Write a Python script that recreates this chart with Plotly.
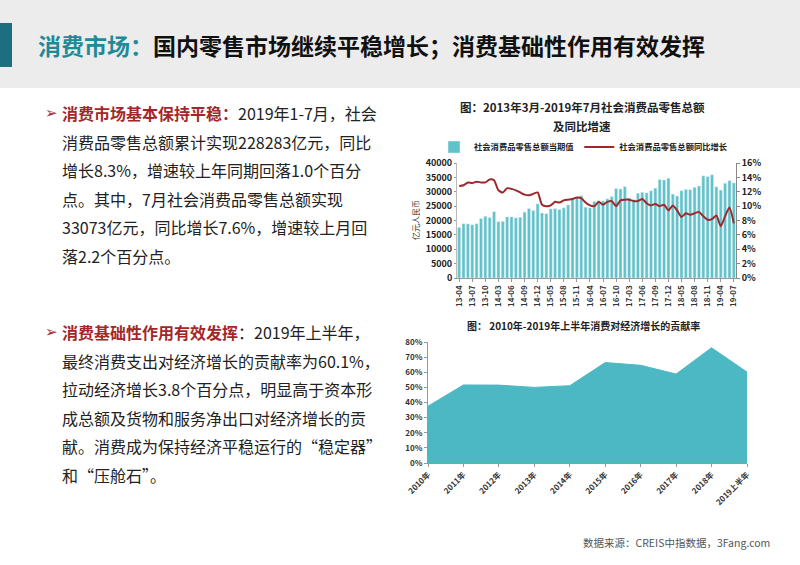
import plotly.graph_objects as go

W, H = 800, 565

# --- chart 1: monthly retail sales (亿元) and YoY growth (%) ---
months = (
    ["13-04", "13-05", "13-06", "13-07", "13-08", "13-09", "13-10", "13-11", "13-12"]
    + ["14-03", "14-04", "14-05", "14-06", "14-07", "14-08", "14-09", "14-10", "14-11", "14-12"]
    + ["15-03", "15-04", "15-05", "15-06", "15-07", "15-08", "15-09", "15-10", "15-11", "15-12"]
    + ["16-03", "16-04", "16-05", "16-06", "16-07", "16-08", "16-09", "16-10", "16-11", "16-12"]
    + ["17-03", "17-04", "17-05", "17-06", "17-07", "17-08", "17-09", "17-10", "17-11", "17-12"]
    + ["18-03", "18-04", "18-05", "18-06", "18-07", "18-08", "18-09", "18-10", "18-11", "18-12"]
    + ["19-03", "19-04", "19-05", "19-06", "19-07"]
)
retail_sales = [
    17600, 18886, 18827, 18513, 18886, 20653, 21491, 21012, 23060,
    19601, 19701, 21250, 21243, 20926, 21134, 22927, 24174, 23475, 25801,
    22605, 22387, 24037, 24123, 23831, 24426, 25434, 27796, 28017, 28635,
    24646, 24420, 26611, 26857, 26827, 27540, 28333, 31119, 30959, 31757,
    27864, 27279, 29459, 29808, 29610, 30330, 31252, 34240, 34108, 34734,
    29194, 28542, 30359, 30842, 30734, 31542, 32005, 35534, 35260, 35893,
    31726, 30586, 32956, 33878, 33073,
]
retail_growth = [
    12.8, 12.9, 13.3, 13.2, 13.4, 13.3, 13.3, 13.7, 13.6,
    12.2, 11.9, 12.5, 12.4, 12.2, 11.9, 11.6, 11.5, 11.7, 11.9,
    10.2, 10.0, 10.1, 10.6, 10.5, 10.8, 10.9, 11.0, 11.2, 11.1,
    10.5, 10.1, 10.0, 10.6, 10.2, 10.6, 10.7, 10.0, 10.8, 10.9,
    10.9, 10.7, 10.7, 11.0, 10.4, 10.1, 10.3, 10.0, 10.2, 9.4,
    10.1, 9.4, 8.5, 9.0, 8.8, 9.0, 9.2, 8.6, 8.1, 8.2,
    8.7, 7.2, 8.6, 9.8, 7.6,
]
month_ticks = ["13-04", "13-07", "13-10", "14-03", "14-06", "14-09", "14-12", "15-05",
               "15-08", "15-11", "16-04", "16-07", "16-10", "17-03", "17-06", "17-09",
               "17-12", "18-05", "18-08", "18-11", "19-04", "19-07"]

# --- chart 2: consumption contribution to growth (%) ---
years = ["2010年", "2011年", "2012年", "2013年", "2014年", "2015年", "2016年", "2017年", "2018年", "2019上半年"]
contribution = [37.6, 51.6, 51.5, 50.0, 51.1, 66.4, 64.6, 58.8, 76.2, 60.1]

TEAL_BAR = "#5fc3c9"
TEAL_AREA = "#4cb8c3"
RED = "#9c2a2c"
TEXT_RED = "#a3272a"
FONT = "Noto Sans CJK SC"


def px(x):
    return x / W


def py(y):
    return 1 - y / H


def add_text(fig, x, y, text, size, color="#222", xanchor="left", family=FONT, **kw):
    """Place a text label using pixel coordinates of the slide."""
    fig.add_annotation(xref="paper", yref="paper", x=px(x), y=py(y), xanchor=xanchor,
                       yanchor="middle", showarrow=False, text=text,
                       font=dict(family=family, size=size, color=color), **kw)


fig = go.Figure()

fig.add_trace(go.Bar(x=months, y=retail_sales, name="社会消费品零售总额当期值",
                     marker_color=TEAL_BAR, xaxis="x", yaxis="y"))
fig.add_trace(go.Scatter(x=months, y=retail_growth, name="社会消费品零售总额同比增长",
                         mode="lines", line=dict(color=RED, width=2, shape="spline", smoothing=0.6),
                         xaxis="x", yaxis="y2"))
fig.add_trace(go.Scatter(x=list(range(len(years))), y=contribution, mode="lines",
                         fill="tozeroy", fillcolor=TEAL_AREA, line=dict(color=TEAL_AREA, width=1),
                         showlegend=False, xaxis="x2", yaxis="y3"))

tick_font = dict(family=FONT, size=9, color="#222", weight="bold")
small_font = dict(family=FONT, size=8, color="#333", weight="bold")

fig.update_layout(
    width=W, height=H,
    margin=dict(l=0, r=0, t=0, b=0, autoexpand=False),
    paper_bgcolor="white", plot_bgcolor="white",
    font=dict(family=FONT),
    bargap=0.3,
    showlegend=True,
    legend=dict(orientation="h", x=px(434), y=py(147), xanchor="left", yanchor="middle",
                font=dict(family=FONT, size=8.3, color="#222", weight="bold"),
                tracegroupgap=0, bgcolor="rgba(0,0,0,0)"),
    xaxis=dict(domain=[px(457), px(736)], anchor="y", type="category", automargin=False,
               tickmode="array", tickvals=month_ticks, ticktext=month_ticks,
               tickangle=-90, tickfont=small_font, showline=True, linecolor="#999",
               ticks="outside", ticklen=3, tickcolor="#999", showgrid=False),
    yaxis=dict(domain=[py(278), py(163)], range=[0, 40000], dtick=5000, tickformat="d",
               anchor="x", automargin=False, tickfont=tick_font, showgrid=False, showline=True,
               linecolor="#bbb", ticks="outside", ticklen=2, tickcolor="#999", zeroline=False),
    yaxis2=dict(overlaying="y", side="right", anchor="x", range=[0, 16], dtick=2,
                automargin=False, ticksuffix="%", tickfont=tick_font, showgrid=False,
                showline=True, linecolor="#888", ticks="outside", ticklen=3, tickcolor="#888",
                zeroline=False),
    xaxis2=dict(domain=[px(428), px(747)], anchor="y3", range=[0, len(years) - 1],
                automargin=False, tickmode="array", tickvals=list(range(len(years))),
                ticktext=years, tickangle=-45, tickfont=small_font, showline=True,
                linecolor="#999", ticks="outside", ticklen=3, tickcolor="#999",
                showgrid=False, zeroline=False),
    yaxis3=dict(domain=[py(463), py(342)], range=[0, 80], dtick=10, ticksuffix="%",
                anchor="x2", automargin=False, tickfont=small_font, showgrid=False,
                showline=True, linecolor="#999", ticks="outside", ticklen=3, tickcolor="#999",
                zeroline=False),
)

# header band
fig.add_shape(type="rect", xref="paper", yref="paper", x0=0, x1=1, y0=py(88), y1=py(0),
              fillcolor="#ececec", line_width=0, layer="below")
fig.add_shape(type="rect", xref="paper", yref="paper", x0=0, x1=px(12), y0=py(67), y1=py(23),
              fillcolor="#1b6f80", line_width=0)

add_text(fig, 36, 45,
         "<b><span style='color:#1f8a98'>消费市场：</span>国内零售市场继续平稳增长；消费基础性作用有效发挥</b>",
         23, color="#111")

# left text blocks
block1 = [
    f"<b><span style='color:{TEXT_RED}'>消费市场基本保持平稳：</span></b>2019年1-7月，社会",
    "消费品零售总额累计实现228283亿元，同比",
    "增长8.3%，增速较上年同期回落1.0个百分",
    "点。其中，7月社会消费品零售总额实现",
    "33073亿元，同比增长7.6%，增速较上月回",
    "落2.2个百分点。",
]
block2 = [
    f"<b><span style='color:{TEXT_RED}'>消费基础性作用有效发挥</span></b>：2019年上半年，",
    "最终消费支出对经济增长的贡献率为60.1%，",
    "拉动经济增长3.8个百分点，明显高于资本形",
    "成总额及货物和服务净出口对经济增长的贡",
    "献。消费成为保持经济平稳运行的“稳定器”",
    "和“压舱石”。",
]
for start, block in ((113, block1), (332, block2)):
    add_text(fig, 43, start, "➢", 15, color=TEXT_RED, family="DejaVu Sans")
    for i, line in enumerate(block):
        add_text(fig, 60, start + i * 28.6, line, 16)

# chart titles
add_text(fig, 582, 107, "<b>图：2013年3月-2019年7月社会消费品零售总额</b>", 11.5, xanchor="center")
add_text(fig, 582, 126, "<b>及同比增速</b>", 11.5, xanchor="center")
add_text(fig, 583, 325, "<b>图： 2010年-2019年上半年消费对经济增长的贡献率</b>", 10, xanchor="center")

# left axis unit label
add_text(fig, 416, 220, "亿元人民币", 8, color="#333", xanchor="center", textangle=-90)

add_text(fig, 772, 542, "数据来源：CREIS中指数据，3Fang.com", 10.5, color="#555", xanchor="right")

fig.write_html("out.html", config={"displayModeBar": False},
               post_script="document.body.style.margin = '0px';")
